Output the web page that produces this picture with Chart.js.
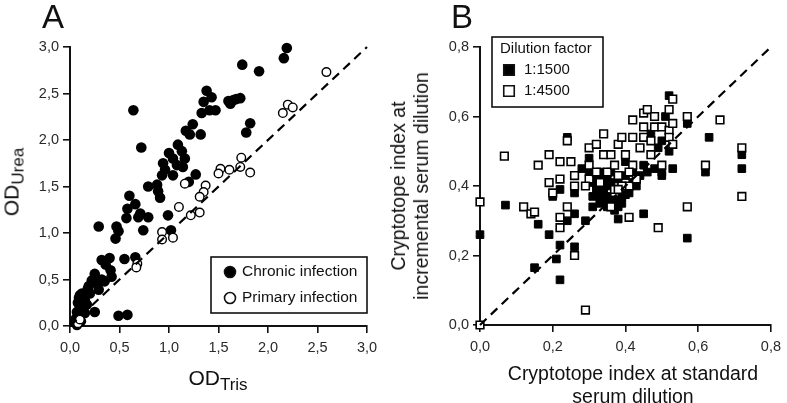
<!DOCTYPE html>
<html>
<head>
<meta charset="utf-8">
<script src="https://cdn.jsdelivr.net/npm/chart.js@4.4.1/dist/chart.umd.min.js"></script>
<style>
  html, body { margin: 0; padding: 0; background: #fff; }
  #wrap { position: relative; width: 787px; height: 403px; overflow: hidden;
          font-family: "Liberation Sans", Arial, sans-serif; color: #111; }
  canvas { position: absolute; left: 0; top: 0; }
  .lab { position: absolute; white-space: nowrap; line-height: 1; }
  .panel { font-size: 33px; top: 0px; }
  .sub { position: relative; top: 5px; font-size: 17px; }
</style>
</head>
<body>
<div id="wrap">
  <canvas id="chartA" width="787" height="403"></canvas>
  <canvas id="chartB" width="787" height="403"></canvas>

  <div class="lab panel" style="left:42px">A</div>
  <div class="lab panel" style="left:451px">B</div>

  <div class="lab" style="left:218px; top:367px; font-size:21px; transform:translateX(-50%)">OD<span class="sub">Tris</span></div>
  <div class="lab" style="left:11px; top:182px; font-size:21px; transform:translate(-50%,-50%) rotate(-90deg)">OD<span class="sub">Urea</span></div>

  <div class="lab" style="left:633px; top:362px; font-size:19.5px; line-height:23px; text-align:center; transform:translateX(-50%)">Cryptotope index at standard<br>serum dilution</div>
  <div class="lab" style="left:410px; top:186px; font-size:19.5px; line-height:23px; text-align:center; transform:translate(-50%,-50%) rotate(-90deg)">Cryptotope index at<br>incremental serum dilution</div>
</div>

<script>
// Panel A: OD with Tris vs OD with Urea
const chronicTris = [2.19, 2.16, 1.74, 1.91, 0.64, 1.38, 1.43, 1.35, 1.33, 1.41, 1.47, 1.60, 1.65, 1.68, 1.72, 1.62,
  1.82, 1.78, 1.24, 1.17, 1.21, 1.32, 0.72, 1.09, 1.00, 1.13, 1.04, 1.16, 0.94, 1.08, 1.14, 0.96, 1.04, 0.93, 1.27,
  1.20, 0.79, 0.88, 0.60, 0.91, 0.89, 0.66, 0.58, 0.57, 0.69, 0.71, 0.79, 0.99, 0.74, 0.29, 0.47, 0.49, 0.46, 1.02,
  0.32, 0.40, 0.36, 0.41, 0.42, 0.55, 0.25, 0.22, 0.32, 0.19, 0.12, 0.09, 0.15, 0.10, 0.07, 0.09, 0.05, 0.07, 0.25,
  0.49, 0.58, 0.29, 0.15, 0.17, 0.28, 0.20, 0.13, 0.11, 0.08, 0.18, 0.35, 0.66, 0.06, 0.10];
const chronicUrea = [2.99, 2.88, 2.81, 2.74, 2.32, 2.53, 2.46, 2.41, 2.29, 2.32, 2.32, 2.42, 2.43, 2.44, 2.45, 2.39,
  2.18, 2.08, 2.17, 2.10, 2.06, 2.06, 1.92, 1.95, 1.86, 1.88, 1.80, 1.80, 1.75, 1.73, 1.71, 1.68, 1.62, 1.62, 1.63,
  1.55, 1.50, 1.52, 1.40, 1.38, 1.45, 1.31, 1.26, 1.16, 1.17, 1.21, 1.17, 1.19, 1.03, 1.07, 1.07, 1.02, 0.94, 1.03,
  0.71, 0.73, 0.66, 0.60, 0.53, 0.72, 0.56, 0.49, 0.50, 0.43, 0.35, 0.30, 0.28, 0.20, 0.15, 0.10, 0.04, 0.01, 0.15,
  0.11, 0.12, 0.39, 0.14, 0.23, 0.45, 0.35, 0.22, 0.05, 0.25, 0.40, 0.48, 0.74, 0.08, 0.33];
const primaryTris = [2.59, 2.15, 2.20, 2.25, 1.73, 1.72, 1.82, 1.61, 1.52, 1.50, 1.16, 1.37, 1.35, 1.31, 1.10, 1.22,
  1.31, 0.93, 0.93, 1.04, 0.68, 0.67, 0.08, 0.10];
const primaryUrea = [2.73, 2.29, 2.38, 2.35, 1.81, 1.71, 1.65, 1.68, 1.69, 1.64, 1.53, 1.51, 1.44, 1.39, 1.28, 1.19,
  1.22, 1.01, 0.93, 0.95, 0.67, 0.63, 0.03, 0.07];
const identityA = [0, 3];
const ticksA = [0, 0.5, 1, 1.5, 2, 2.5, 3];

// Panel B: cryptotope index, standard vs incremental serum dilution
const dil1500Std = [0.00, 0.07, 0.15, 0.16, 0.19, 0.21, 0.22, 0.22, 0.24, 0.26, 0.26, 0.29, 0.31, 0.20, 0.22, 0.26,
  0.24, 0.38, 0.38, 0.45, 0.57, 0.32, 0.33, 0.35, 0.39, 0.40, 0.35, 0.34, 0.36, 0.37, 0.31, 0.34, 0.30, 0.38, 0.42,
  0.45, 0.40, 0.48, 0.50, 0.53, 0.52, 0.50, 0.51, 0.52, 0.57, 0.63, 0.62, 0.72, 0.72, 0.36, 0.33, 0.43, 0.47, 0.49,
  0.31, 0.33, 0.35, 0.37, 0.39, 0.41, 0.34, 0.36, 0.38, 0.32, 0.42, 0.44, 0.46, 0.40, 0.30, 0.28, 0.33, 0.50, 0.37,
  0.39, 0.35];
const dil1500Inc = [0.26, 0.345, 0.165, 0.29, 0.26, 0.19, 0.23, 0.13, 0.30, 0.32, 0.225, 0.30, 0.34, 0.37, 0.39, 0.38,
  0.54, 0.305, 0.34, 0.32, 0.25, 0.39, 0.38, 0.37, 0.40, 0.375, 0.40, 0.36, 0.35, 0.39, 0.41, 0.42, 0.48, 0.43, 0.44,
  0.46, 0.47, 0.45, 0.44, 0.45, 0.50, 0.53, 0.60, 0.66, 0.58, 0.54, 0.44, 0.49, 0.45, 0.44, 0.44, 0.40, 0.55, 0.51,
  0.37, 0.35, 0.34, 0.36, 0.37, 0.38, 0.39, 0.41, 0.42, 0.42, 0.41, 0.43, 0.44, 0.43, 0.44, 0.45, 0.36, 0.43, 0.33,
  0.35, 0.43];
const dil4500Std = [0.00, 0.00, 0.067, 0.12, 0.14, 0.15, 0.16, 0.19, 0.22, 0.25, 0.24, 0.26, 0.19, 0.20, 0.22, 0.26,
  0.22, 0.22, 0.24, 0.26, 0.29, 0.30, 0.30, 0.32, 0.34, 0.34, 0.36, 0.38, 0.39, 0.40, 0.42, 0.42, 0.44, 0.45, 0.42,
  0.45, 0.46, 0.45, 0.48, 0.48, 0.50, 0.52, 0.52, 0.53, 0.53, 0.57, 0.52, 0.53, 0.50, 0.47, 0.47, 0.66, 0.62, 0.72,
  0.72, 0.57, 0.49, 0.41, 0.36, 0.37, 0.41, 0.30, 0.32, 0.35, 0.37, 0.38, 0.41, 0.43, 0.39, 0.33, 0.38, 0.29];
const dil4500Inc = [0.354, 0.00, 0.486, 0.34, 0.32, 0.325, 0.46, 0.49, 0.47, 0.47, 0.53, 0.43, 0.41, 0.38, 0.42, 0.40,
  0.31, 0.28, 0.34, 0.20, 0.043, 0.51, 0.46, 0.52, 0.55, 0.49, 0.49, 0.52, 0.54, 0.49, 0.46, 0.54, 0.51, 0.54, 0.59,
  0.61, 0.62, 0.57, 0.60, 0.57, 0.57, 0.56, 0.62, 0.65, 0.58, 0.60, 0.54, 0.52, 0.46, 0.49, 0.53, 0.59, 0.46, 0.51,
  0.37, 0.34, 0.28, 0.31, 0.34, 0.39, 0.40, 0.42, 0.44, 0.44, 0.46, 0.43, 0.44, 0.42, 0.40, 0.41, 0.39, 0.40];
const identityB = [0, 0.8];
const ticksB = [0, 0.2, 0.4, 0.6, 0.8];

const ink = '#111';
const toPoints = (xs, ys) => xs.map((x, i) => ({ x: x, y: ys[i] }));
const fmt = v => v.toFixed(1).replace('.', ',');

// legend with a frame, drawn inside the canvas
const boxLegend = {
  id: 'boxLegend',
  afterDraw(chart, args, opts) {
    const ctx = chart.ctx;
    ctx.save();
    ctx.strokeStyle = ink;
    ctx.lineWidth = 1.6;
    ctx.strokeRect(opts.x, opts.y, opts.w, opts.h);
    ctx.font = opts.font;
    ctx.fillStyle = ink;
    ctx.textBaseline = 'middle';
    let y = opts.y + opts.first;
    if (opts.title) {
      ctx.fillText(opts.title, opts.x + opts.titleX, y);
      y += opts.gap;
    }
    opts.items.forEach(it => {
      const ds = chart.data.datasets[it.ds];
      const mx = opts.x + opts.markX;
      ctx.beginPath();
      if (ds.pointStyle === 'rect') {
        const s = opts.markSize;
        ctx.rect(mx - s / 2, y - s / 2, s, s);
      } else {
        ctx.arc(mx, y, opts.markSize / 2, 0, Math.PI * 2);
      }
      ctx.fillStyle = ds.backgroundColor;
      ctx.fill();
      ctx.lineWidth = 1.6;
      ctx.strokeStyle = ink;
      ctx.stroke();
      ctx.fillStyle = ink;
      ctx.fillText(ds.label, opts.x + opts.textX, y);
      y += opts.gap;
    });
    ctx.restore();
  }
};

function axis(tickValues, pos, size) {
  return {
    type: 'linear',
    position: pos,
    min: tickValues[0],
    max: tickValues[tickValues.length - 1],
    afterBuildTicks: s => { s.ticks = tickValues.map(v => ({ value: v })); },
    afterFit: s => { if (pos === 'left') s.width = size; else s.height = size; },
    grid: { drawOnChartArea: false, drawTicks: true, tickLength: 7, color: ink, lineWidth: 1.6 },
    border: { display: true, color: ink, width: 2 },
    ticks: {
      callback: v => fmt(v),
      color: '#2a2a2a',
      font: { family: '"Liberation Sans", Arial, sans-serif', size: 14.5 },
      padding: pos === 'left' ? 4 : 6,
      maxRotation: 0,
      autoSkip: false
    }
  };
}

function baseOptions(padding, xTicks, yTicks, yWidth, xHeight, legend) {
  return {
    responsive: false,
    animation: false,
    devicePixelRatio: 1,
    events: [],
    layout: { padding: padding },
    plugins: { legend: { display: false }, tooltip: { enabled: false }, boxLegend: legend },
    scales: {
      x: axis(xTicks, 'bottom', xHeight),
      y: axis(yTicks, 'left', yWidth)
    }
  };
}

Chart.defaults.font.family = '"Liberation Sans", Arial, sans-serif';

new Chart(document.getElementById('chartA'), {
  type: 'scatter',
  plugins: [boxLegend],
  data: {
    datasets: [
      {
        label: 'Chronic infection',
        data: toPoints(chronicTris, chronicUrea),
        pointStyle: 'circle', pointRadius: 5.3,
        backgroundColor: '#000', borderColor: '#000', borderWidth: 0,
        clip: false, order: 3
      },
      {
        label: 'Primary infection',
        data: toPoints(primaryTris, primaryUrea),
        pointStyle: 'circle', pointRadius: 4.3,
        backgroundColor: '#fff', borderColor: '#000', borderWidth: 1.4,
        clip: false, order: 2
      },
      {
        type: 'line',
        label: 'identity',
        data: toPoints(identityA, identityA),
        borderColor: '#000', borderWidth: 2.2, borderDash: [9, 6],
        pointRadius: 0, fill: false, clip: false, order: 1
      }
    ]
  },
  options: baseOptions({ left: 0, top: 47, right: 420, bottom: 0 }, ticksA, ticksA, 70, 77, {
    x: 211, y: 257, w: 156, h: 56, first: 15, gap: 26,
    markX: 19, textX: 31, markSize: 11,
    font: '15.5px "Liberation Sans", Arial, sans-serif',
    items: [{ ds: 0 }, { ds: 1 }]
  })
});

new Chart(document.getElementById('chartB'), {
  type: 'scatter',
  plugins: [boxLegend],
  data: {
    datasets: [
      {
        label: '1:1500',
        data: toPoints(dil1500Std, dil1500Inc),
        pointStyle: 'rect', pointRadius: 5.4,
        backgroundColor: '#000', borderColor: '#000', borderWidth: 1,
        clip: false, order: 3
      },
      {
        label: '1:4500',
        data: toPoints(dil4500Std, dil4500Inc),
        pointStyle: 'rect', pointRadius: 5.4,
        backgroundColor: '#fff', borderColor: '#000', borderWidth: 1.6,
        clip: false, order: 2
      },
      {
        type: 'line',
        label: 'identity',
        data: toPoints(identityB, identityB),
        borderColor: '#000', borderWidth: 2.2, borderDash: [9, 6],
        pointRadius: 0, fill: false, clip: false, order: 1
      }
    ]
  },
  options: baseOptions({ left: 395, top: 47, right: 10, bottom: 0 }, ticksB, ticksB, 85, 78, {
    x: 492, y: 37, w: 111, h: 70, first: 12, gap: 21,
    titleX: 8, markX: 17, textX: 32, markSize: 10.5,
    font: '15px "Liberation Sans", Arial, sans-serif',
    title: 'Dilution factor',
    items: [{ ds: 0 }, { ds: 1 }]
  })
});
</script>
</body>
</html>
